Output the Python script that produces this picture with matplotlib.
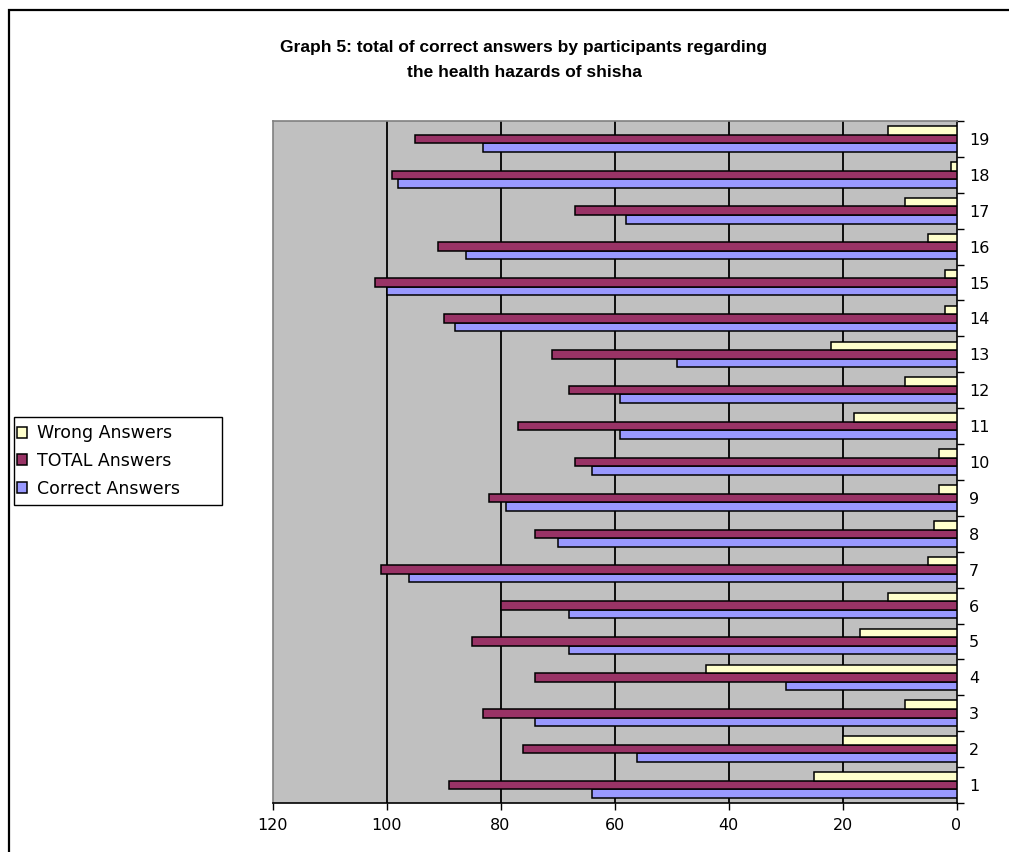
import matplotlib
matplotlib.use("Agg")
import matplotlib.pyplot as plt
import numpy as np
from matplotlib.patches import Rectangle

plt.rcParams['font.family'] = ['DejaVu Sans']

categories = [str(i) for i in range(1, 20)]
wrong = [25, 20, 9, 44, 17, 12, 5, 4, 3, 3, 18, 9, 22, 2, 2, 5, 9, 1, 12]
total = [89, 76, 83, 74, 85, 80, 101, 74, 82, 67, 77, 68, 71, 90, 102, 91, 67, 99, 95]
correct = [64, 56, 74, 30, 68, 68, 96, 70, 79, 64, 59, 59, 49, 88, 100, 86, 58, 98, 83]
x_ticks = [120, 100, 80, 60, 40, 20, 0]
series_names = ["Wrong Answers", "TOTAL Answers", "Correct Answers"]
colors = ["#FFFFCC", "#993366", "#9999FF"]

W, H = 1009, 852
fig = plt.figure(figsize=(W / 100, H / 100), dpi=100)
fig.patch.set_facecolor("white")

# outer frame
fig.add_artist(Rectangle((9 / W, -0.1), 1.2, (H - 10) / H + 0.1, transform=fig.transFigure,
                         fill=False, edgecolor="black", lw=1.6))

left, right, top, bottom = 272.5, 956.5, 121, 803
ax = fig.add_axes([left / W, 1 - bottom / H, (right - left) / W, (bottom - top) / H])
ax.set_facecolor("#C0C0C0")

y = np.arange(1, len(categories) + 1)
h = 0.238
ax.barh(y - h, correct, height=h, color=colors[2], edgecolor="black", lw=1.1, label=series_names[2], zorder=3)
ax.barh(y, total, height=h, color=colors[1], edgecolor="black", lw=1.1, label=series_names[1], zorder=3)
ax.barh(y + h, wrong, height=h, color=colors[0], edgecolor="black", lw=1.1, label=series_names[0], zorder=3)

ax.set_xlim(120, 0)
ax.set_ylim(0.5, len(categories) + 0.5)
ax.set_xticks(x_ticks)
ax.set_xticklabels([str(t) for t in x_ticks], fontsize=11.5)
for t in x_ticks[1:-1]:
    ax.axvline(t, color="black", lw=1.3, zorder=1)

ax.yaxis.tick_right()
ax.set_yticks(y)
ax.set_yticklabels(categories, fontsize=11.5)
ax.set_yticks(np.arange(0.5, len(categories) + 1), minor=True)
ax.tick_params(axis="y", which="major", length=0, pad=9)
ax.tick_params(axis="y", which="minor", length=5, width=1, direction="out")
ax.tick_params(axis="x", which="major", length=5, width=1, direction="out", pad=6)

ax.spines["left"].set_color("#808080")
ax.spines["top"].set_color("#808080")
ax.spines["right"].set_color("black")
ax.spines["bottom"].set_color("black")
for s in ax.spines.values():
    s.set_linewidth(1.2)

fig.text(524 / W, 1 - 60 / H, "Graph 5: total of correct answers by participants regarding\nthe health hazards of shisha",
         ha="center", va="center", fontsize=12.5, fontweight="bold", linespacing=1.8,
         family=["Liberation Sans", "DejaVu Sans"])

# legend frame drawn separately to match the reference box size
fig.add_artist(Rectangle((13.5 / W, 1 - 505 / H), (222 - 13.5) / W, (505 - 417) / H,
                         transform=fig.transFigure, fill=True, facecolor="white",
                         edgecolor="black", lw=1.0, zorder=2))
handles, labels = ax.get_legend_handles_labels()
order = [2, 1, 0]
leg = fig.legend([handles[i] for i in order], [labels[i] for i in order],
                 loc="center left", bbox_to_anchor=(17 / W, 1 - 461 / H),
                 fontsize=12.5, frameon=False,
                 handlelength=0.6, handleheight=0.6, handletextpad=0.55,
                 labelspacing=0.55, borderpad=0.0, borderaxespad=0)
leg.set_zorder(3)

fig.savefig("out.png", dpi=100)
